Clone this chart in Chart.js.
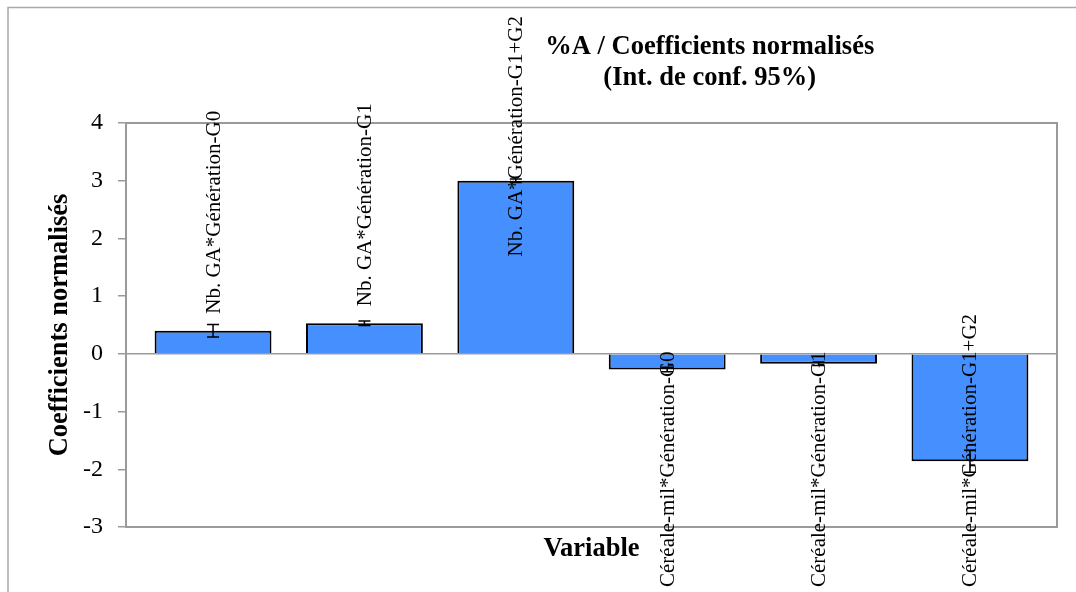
<!DOCTYPE html>
<html>
<head>
<meta charset="utf-8">
<script src="https://cdn.jsdelivr.net/npm/chart.js@4/dist/chart.umd.min.js"></script>
<style>
  html, body { margin: 0; padding: 0; background: #ffffff; }
  #wrap { width: 1076px; height: 592px; position: relative; }
</style>
</head>
<body>
<div id="wrap"><canvas id="c" width="1076" height="592"></canvas></div>
<script>
// ---- data ----
const categories = [
  "Nb. GA*Génération-G0",
  "Nb. GA*Génération-G1",
  "Nb. GA*Génération-G1+G2",
  "Céréale-mil*Génération-G0",
  "Céréale-mil*Génération-G1",
  "Céréale-mil*Génération-G1+G2"
];
const coefficients = [0.40, 0.53, 3.00, -0.27, -0.17, -1.86];
const errors = [0.11, 0.04, 0.03, 0.04, 0.03, 0.19];
const yTicks = [-3, -2, -1, 0, 1, 2, 3, 4];
const titleLines = ["%A / Coefficients normalisés", "(Int. de conf. 95%)"];
const yTitle = "Coefficients normalisés";
const xTitle = "Variable";

const SERIF = "'Liberation Serif', 'Times New Roman', serif";
const GRAY = '#9a9a9a';

const points = coefficients.map((v, i) => ({ x: i, y: v }));

const decorPlugin = {
  id: 'decor',
  beforeDraw(chart) {
    const ctx = chart.ctx;
    ctx.save();
    ctx.fillStyle = '#ffffff';
    ctx.fillRect(0, 0, chart.width, chart.height);
    // outer frame (top and left edges)
    ctx.strokeStyle = '#a8a8a8';
    ctx.lineWidth = 1.5;
    ctx.beginPath();
    ctx.moveTo(8, chart.height);
    ctx.lineTo(8, 7.5);
    ctx.lineTo(chart.width, 7.5);
    ctx.stroke();
    ctx.restore();
  },
  afterDraw(chart) {
    const ctx = chart.ctx;
    const a = chart.chartArea;
    ctx.save();
    ctx.fillStyle = '#000';
    // title
    ctx.font = "bold 26.5px " + SERIF;
    ctx.textAlign = 'center';
    ctx.textBaseline = 'middle';
    const tx = a.left + (a.right - a.left) * 0.627;
    ctx.fillText(titleLines[0], tx, 47);
    ctx.fillText(titleLines[1], tx, 78);
    // x title
    ctx.fillText(xTitle, (a.left + a.right) / 2, a.bottom + 22);
    // y title
    ctx.save();
    ctx.translate(60, (a.top + a.bottom) / 2);
    ctx.rotate(-Math.PI / 2);
    ctx.fillText(yTitle, 0, 0);
    ctx.restore();
    ctx.restore();
  },
  beforeDatasetsDraw(chart) {
    const ctx = chart.ctx;
    const a = chart.chartArea;
    ctx.save();
    ctx.strokeStyle = GRAY;
    ctx.lineWidth = 2;
    ctx.strokeRect(a.left, a.top, a.right - a.left, a.bottom - a.top);
    ctx.restore();
  },
  afterDatasetsDraw(chart) {
    const ctx = chart.ctx;
    const meta = chart.getDatasetMeta(0);
    const ys = chart.scales.y;
    ctx.save();
    // error bars
    ctx.strokeStyle = '#000';
    ctx.lineWidth = 1.5;
    meta.data.forEach((el, i) => {
      const v = coefficients[i], e = errors[i];
      const y1 = ys.getPixelForValue(v + e), y2 = ys.getPixelForValue(v - e);
      ctx.beginPath();
      ctx.moveTo(el.x, y1); ctx.lineTo(el.x, y2);
      ctx.moveTo(el.x - 6, y1); ctx.lineTo(el.x + 6, y1);
      ctx.moveTo(el.x - 6, y2); ctx.lineTo(el.x + 6, y2);
      ctx.stroke();
    });
    // data labels (rotated)
    ctx.font = "21px " + SERIF;
    ctx.fillStyle = '#000';
    ctx.textAlign = 'left';
    ctx.textBaseline = 'middle';
    const gap = 17, minTop = 16, maxBottom = 587;
    meta.data.forEach((el, i) => {
      const v = coefficients[i];
      const txt = categories[i];
      const w = ctx.measureText(txt).width;
      let start;
      if (v >= 0) {
        start = el.y - gap;
        if (start - w < minTop) start = minTop + w;
      } else {
        start = el.y + gap + w;
        if (start > maxBottom) start = maxBottom;
      }
      ctx.save();
      ctx.translate(el.x + 1, start);
      ctx.rotate(-Math.PI / 2);
      ctx.fillText(txt, 0, 0);
      ctx.restore();
    });
    ctx.restore();
  }
};

new Chart(document.getElementById('c'), {
  type: 'bar',
  data: {
    datasets: [{
      data: points,
      backgroundColor: '#468FFF',
      borderColor: '#000000',
      borderWidth: 2,
      barPercentage: 0.772,
      categoryPercentage: 1.0
    }]
  },
  options: {
    responsive: false,
    animation: false,
    devicePixelRatio: 1,
    layout: { padding: { top: 123, right: 19, left: 0, bottom: 0 } },
    plugins: { legend: { display: false }, tooltip: { enabled: false }, title: { display: false } },
    scales: {
      x: {
        type: 'linear',
        offset: false,
        min: -0.575,
        max: 5.575,
        afterBuildTicks(s) { s.ticks = categories.map((c, i) => ({ value: i })); },
        grid: { display: false, offset: false },
        border: { display: false },
        ticks: { display: false },
        afterFit(s) { s.height = 65; }
      },
      y: {
        min: -3,
        max: 4,
        afterBuildTicks(s) { s.ticks = yTicks.map(v => ({ value: v })); },
        ticks: {
          stepSize: 1,
          color: '#000',
          padding: 15,
          font: { family: SERIF, size: 24 }
        },
        grid: {
          drawOnChartArea: true,
          drawTicks: true,
          tickLength: 8,
          tickColor: GRAY,
          lineWidth: 1.5,
          color: (c) => (c.tick && c.tick.value === 0) ? GRAY : 'rgba(0,0,0,0)'
        },
        border: { display: true, color: GRAY, width: 2 },
        afterFit(s) { s.width = 126; }
      }
    }
  },
  plugins: [decorPlugin]
});
</script>
</body>
</html>
